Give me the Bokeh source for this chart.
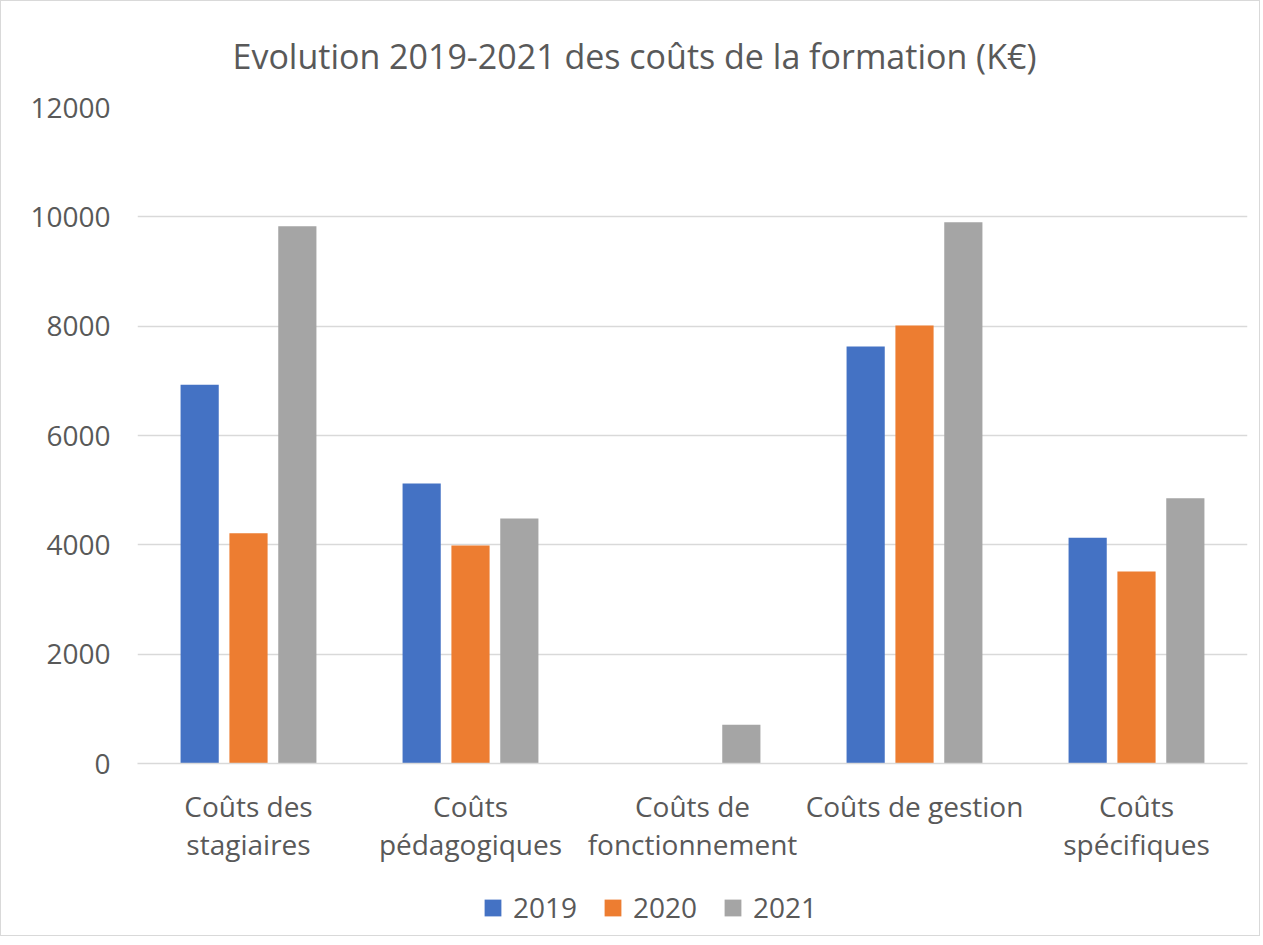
from bokeh.plotting import figure
from bokeh.layouts import column
from bokeh.models import (ColumnDataSource, FactorRange, Legend, LegendItem, Range1d,
                          SingleIntervalTicker)
from bokeh.transform import dodge
from bokeh.embed import file_html
from bokeh.resources import INLINE

categories = ["Coûts des\nstagiaires", "Coûts\npédagogiques", "Coûts de\nfonctionnement",
              "Coûts de gestion", "Coûts\nspécifiques"]
years = ["2019", "2020", "2021"]
v2019 = [6930, 5120, 0, 7630, 4130]
v2020 = [4210, 3990, 0, 8010, 3510]
v2021 = [9830, 4480, 710, 9900, 4850]
colors = ["#4472C4", "#ED7D31", "#A5A5A5"]

FONT = "Open Sans"
TXT = "#595959"
keys = ["y2019", "y2020", "y2021"]
offsets = [-0.22, 0.0, 0.22]

src = ColumnDataSource(dict(cat=categories, y2019=v2019, y2020=v2020, y2021=v2021))

p = figure(x_range=FactorRange(*categories), y_range=Range1d(0, 12000),
           frame_width=1110, frame_height=656, output_backend="svg", toolbar_location=None,
           min_border_left=136, min_border_right=12, min_border_top=105, min_border_bottom=110)

p.title.text = "Evolution 2019-2021 des coûts de la formation (K€)"
p.title.align = "left"
p.title.offset = 95
p.title.text_font = FONT
p.title.text_font_size = "34px"
p.title.text_font_style = "normal"
p.title.text_color = TXT
p.title.standoff = 58

for off, col, key in zip(offsets, colors, keys):
    p.vbar(x=dodge("cat", off, range=p.x_range), top=key, width=0.172, source=src,
           fill_color=col, line_color=None)

p.outline_line_color = None
p.xgrid.grid_line_color = None
p.ygrid.grid_line_color = "#d9d9d9"
p.ygrid.grid_line_width = 1.5
p.yaxis.ticker = SingleIntervalTicker(interval=2000)
p.yaxis.axis_line_color = None
p.yaxis.major_tick_line_color = None
p.yaxis.minor_tick_line_color = None
p.yaxis.major_label_standoff = 21
p.yaxis.major_label_text_font = FONT
p.yaxis.major_label_text_font_size = "28px"
p.yaxis.major_label_text_color = TXT

p.xaxis.axis_line_color = "#d9d9d9"
p.xaxis.axis_line_width = 1.5
p.xaxis.major_tick_line_color = None
p.xaxis.minor_tick_line_color = None
p.xaxis.major_label_standoff = 17
p.xaxis.major_label_text_font = FONT
p.xaxis.major_label_text_font_size = "28px"
p.xaxis.major_label_text_color = TXT
p.xaxis.major_label_text_line_height = 1.0

# Legend strip below the chart (same series; its bars fall outside this strip's view)
lf = figure(x_range=p.x_range, y_range=Range1d(20000, 30000),
            width=1258, height=62, output_backend="svg", toolbar_location=None,
            x_axis_location=None, y_axis_location=None,
            min_border_left=0, min_border_right=0, min_border_top=0, min_border_bottom=0)
lf.outline_line_color = None
lf.xgrid.grid_line_color = None
lf.ygrid.grid_line_color = None
lrs = []
for off, col, key in zip(offsets, colors, keys):
    lrs.append(lf.vbar(x=dodge("cat", off, range=lf.x_range), top=key, width=0.172, source=src,
                       fill_color=col, line_color=None))

legend = Legend(items=[LegendItem(label=y, renderers=[r]) for y, r in zip(years, lrs)],
                orientation="horizontal", location=(345, 9))
legend.label_text_font = FONT
legend.label_text_font_size = "28px"
legend.label_text_color = TXT
legend.glyph_width = 21
legend.glyph_height = 21
legend.label_standoff = 10
legend.spacing = 25
legend.border_line_color = None
legend.background_fill_alpha = 0
legend.margin = 0
legend.padding = 0
lf.add_layout(legend, "center")

layout = column(p, lf, spacing=0)
layout.styles = {"border": "1px solid #d9d9d9"}

open("out.html", "w").write(file_html(layout, INLINE))
